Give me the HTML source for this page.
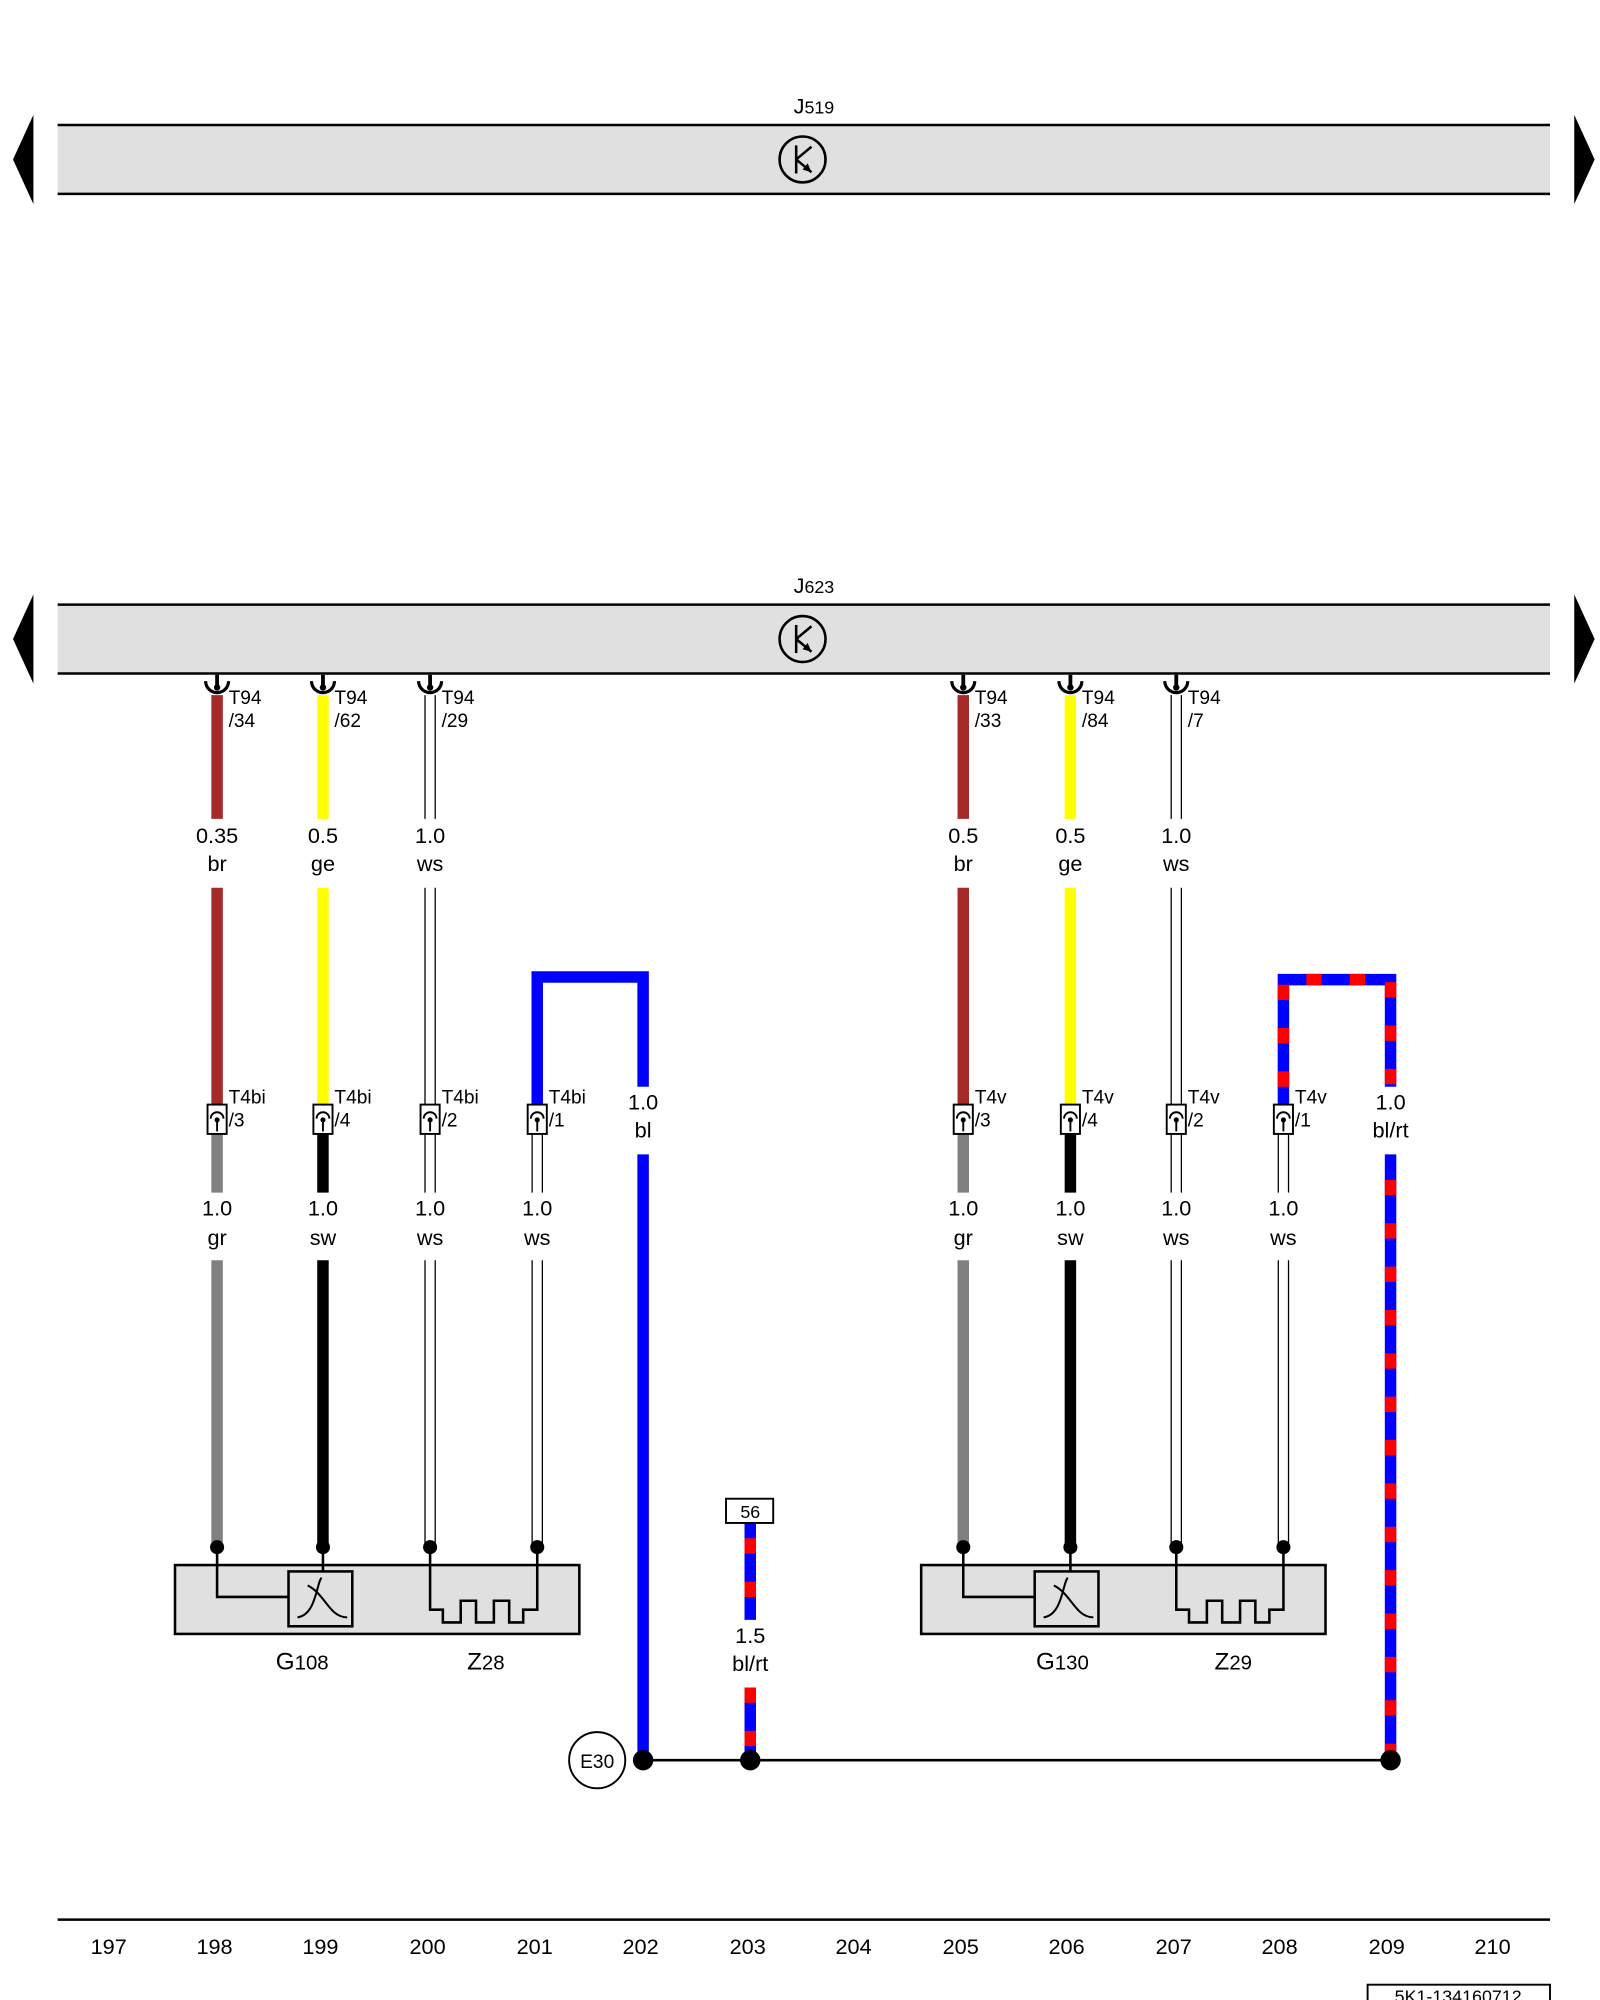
<!DOCTYPE html>
<html><head><meta charset="utf-8"><style>
html,body{margin:0;padding:0;background:#fff;}
svg{display:block;}
text{font-family:"Liberation Sans",sans-serif;fill:#000;}
</style></head><body>
<svg width="1600" height="2000" viewBox="0 0 1254 1568" xmlns="http://www.w3.org/2000/svg">
<defs>
<g id="t94">
 <path d="M-9,-4 A9,9 0 0 0 9,-4" fill="none" stroke="#000" stroke-width="2.5"/>
 <line x1="0" y1="-9" x2="0" y2="2" stroke="#000" stroke-width="3"/>
 <circle cx="0" cy="1" r="2.5" fill="#000"/>
</g>
<g id="t4">
 <rect x="-7.5" y="-11" width="15" height="23" fill="#fff" stroke="#000" stroke-width="1.5"/>
 <path d="M-5,0 A5,5 0 0 1 5,0" fill="none" stroke="#000" stroke-width="1.5"/>
 <line x1="0" y1="0" x2="0" y2="10" stroke="#000" stroke-width="1.5"/>
 <circle cx="0" cy="1" r="2" fill="#000"/>
</g>
</defs>
<polygon points="26,90 26,160 10,125" fill="#000"/>
<polygon points="1234,90 1234,160 1250,125" fill="#000"/>
<polygon points="26,466 26,536 10,501" fill="#000"/>
<polygon points="1234,466 1234,536 1250,501" fill="#000"/>
<rect x="45" y="98" width="1170" height="54" fill="#e0e0e0"/>
<line x1="45" y1="98" x2="1215" y2="98" stroke="#000" stroke-width="2"/>
<line x1="45" y1="152" x2="1215" y2="152" stroke="#000" stroke-width="2"/>
<text x="622" y="89" font-size="17">J<tspan font-size="14">519</tspan></text>
<g transform="translate(629,125)"><circle r="18" fill="none" stroke="#000" stroke-width="2"/><line x1="-5" y1="-11" x2="-5" y2="11" stroke="#000" stroke-width="2"/><line x1="-5" y1="0" x2="7" y2="-10" stroke="#000" stroke-width="2"/><line x1="-5" y1="0" x2="7" y2="10" stroke="#000" stroke-width="2"/><polygon points="7,10 0,8 4,3" fill="#000"/></g>
<rect x="45" y="474" width="1170" height="54" fill="#e0e0e0"/>
<line x1="45" y1="474" x2="1215" y2="474" stroke="#000" stroke-width="2"/>
<line x1="45" y1="528" x2="1215" y2="528" stroke="#000" stroke-width="2"/>
<text x="622" y="465" font-size="17">J<tspan font-size="14">623</tspan></text>
<g transform="translate(629,501)"><circle r="18" fill="none" stroke="#000" stroke-width="2"/><line x1="-5" y1="-11" x2="-5" y2="11" stroke="#000" stroke-width="2"/><line x1="-5" y1="0" x2="7" y2="-10" stroke="#000" stroke-width="2"/><line x1="-5" y1="0" x2="7" y2="10" stroke="#000" stroke-width="2"/><polygon points="7,10 0,8 4,3" fill="#000"/></g>

<g stroke-width="9" fill="none">
 <line x1="170" y1="545" x2="170" y2="642" stroke="#a52a2a"/>
 <line x1="170" y1="696" x2="170" y2="866" stroke="#a52a2a"/>
 <line x1="253" y1="545" x2="253" y2="642" stroke="#ffff00"/>
 <line x1="253" y1="696" x2="253" y2="866" stroke="#ffff00"/>
 <line x1="755" y1="545" x2="755" y2="642" stroke="#a52a2a"/>
 <line x1="755" y1="696" x2="755" y2="866" stroke="#a52a2a"/>
 <line x1="839" y1="545" x2="839" y2="642" stroke="#ffff00"/>
 <line x1="839" y1="696" x2="839" y2="866" stroke="#ffff00"/>
 <line x1="170" y1="889" x2="170" y2="935" stroke="#808080"/>
 <line x1="170" y1="988" x2="170" y2="1213" stroke="#808080"/>
 <line x1="253" y1="889" x2="253" y2="935" stroke="#000"/>
 <line x1="253" y1="988" x2="253" y2="1213" stroke="#000"/>
 <line x1="755" y1="889" x2="755" y2="935" stroke="#808080"/>
 <line x1="755" y1="988" x2="755" y2="1213" stroke="#808080"/>
 <line x1="839" y1="889" x2="839" y2="935" stroke="#000"/>
 <line x1="839" y1="988" x2="839" y2="1213" stroke="#000"/>
 <polyline points="421,866 421,766 504,766 504,852" stroke="#0000ff"/>
 <line x1="504" y1="905" x2="504" y2="1380" stroke="#0000ff"/>
 <polyline points="1006,866 1006,768 1090,768 1090,852" stroke="#0000ff"/>
 <polyline points="1006,866 1006,768 1090,768 1090,852" stroke="#ff0000" stroke-dasharray="12 22" stroke-dashoffset="-14"/>
 <line x1="1090" y1="905" x2="1090" y2="1380" stroke="#0000ff"/>
 <line x1="1090" y1="905" x2="1090" y2="1380" stroke="#ff0000" stroke-dasharray="12 22" stroke-dashoffset="-20"/>
 <line x1="588" y1="1194" x2="588" y2="1270" stroke="#0000ff"/>
 <line x1="588" y1="1194" x2="588" y2="1270" stroke="#ff0000" stroke-dasharray="12 22" stroke-dashoffset="-12"/>
 <line x1="588" y1="1323" x2="588" y2="1380" stroke="#0000ff"/>
 <line x1="588" y1="1323" x2="588" y2="1380" stroke="#ff0000" stroke-dasharray="12 22"/>
</g>
<g stroke="#000" stroke-width="1" fill="none">
 <path d="M333,545V642M341,545V642M333,696V866M341,696V866M333,889V935M341,889V935M333,988V1213M341,988V1213"/>
 <path d="M918,545V642M926,545V642M918,696V866M926,696V866M918,889V935M926,889V935M918,988V1213M926,988V1213"/>
 <path d="M417,889V935M425,889V935M417,988V1213M425,988V1213"/>
 <path d="M1002,889V935M1010,889V935M1002,988V1213M1010,988V1213"/>
</g>
<use href="#t94" x="170" y="538"/><use href="#t94" x="253" y="538"/><use href="#t94" x="337" y="538"/>
<use href="#t94" x="755" y="538"/><use href="#t94" x="839" y="538"/><use href="#t94" x="922" y="538"/>
<g font-size="15">
 <text x="179" y="552">T94</text><text x="179" y="570">/34</text>
 <text x="262" y="552">T94</text><text x="262" y="570">/62</text>
 <text x="346" y="552">T94</text><text x="346" y="570">/29</text>
 <text x="764" y="552">T94</text><text x="764" y="570">/33</text>
 <text x="848" y="552">T94</text><text x="848" y="570">/84</text>
 <text x="931" y="552">T94</text><text x="931" y="570">/7</text>
</g>
<use href="#t4" x="170" y="877"/><use href="#t4" x="253" y="877"/><use href="#t4" x="337" y="877"/><use href="#t4" x="421" y="877"/>
<use href="#t4" x="755" y="877"/><use href="#t4" x="839" y="877"/><use href="#t4" x="922" y="877"/><use href="#t4" x="1006" y="877"/>
<g font-size="15">
 <text x="179" y="865">T4bi</text><text x="179" y="883">/3</text>
 <text x="262" y="865">T4bi</text><text x="262" y="883">/4</text>
 <text x="346" y="865">T4bi</text><text x="346" y="883">/2</text>
 <text x="430" y="865">T4bi</text><text x="430" y="883">/1</text>
 <text x="764" y="865">T4v</text><text x="764" y="883">/3</text>
 <text x="848" y="865">T4v</text><text x="848" y="883">/4</text>
 <text x="931" y="865">T4v</text><text x="931" y="883">/2</text>
 <text x="1015" y="865">T4v</text><text x="1015" y="883">/1</text>
</g>
<g font-size="17" text-anchor="middle">
 <text x="170" y="661">0.35</text><text x="170" y="683">br</text>
 <text x="253" y="661">0.5</text><text x="253" y="683">ge</text>
 <text x="337" y="661">1.0</text><text x="337" y="683">ws</text>
 <text x="755" y="661">0.5</text><text x="755" y="683">br</text>
 <text x="839" y="661">0.5</text><text x="839" y="683">ge</text>
 <text x="922" y="661">1.0</text><text x="922" y="683">ws</text>
 <text x="504" y="870">1.0</text><text x="504" y="892">bl</text>
 <text x="1090" y="870">1.0</text><text x="1090" y="892">bl/rt</text>
 <text x="170" y="953">1.0</text><text x="170" y="976">gr</text>
 <text x="253" y="953">1.0</text><text x="253" y="976">sw</text>
 <text x="337" y="953">1.0</text><text x="337" y="976">ws</text>
 <text x="421" y="953">1.0</text><text x="421" y="976">ws</text>
 <text x="755" y="953">1.0</text><text x="755" y="976">gr</text>
 <text x="839" y="953">1.0</text><text x="839" y="976">sw</text>
 <text x="922" y="953">1.0</text><text x="922" y="976">ws</text>
 <text x="1006" y="953">1.0</text><text x="1006" y="976">ws</text>
 <text x="588" y="1288">1.5</text><text x="588" y="1310">bl/rt</text>
</g>
<g stroke="#000" stroke-width="2" fill="none">
 <rect x="137" y="1227" width="317" height="54" fill="#e0e0e0"/>
 <rect x="226" y="1232" width="50" height="43"/>
 <path d="M170,1213V1252H226M253,1213V1232"/>
 <path d="M233,1268 C248,1266 248,1240 252,1237 M241,1243 C255,1250 258,1268 272,1268" stroke-width="1.6"/>
 <path d="M337,1213V1262H347V1272H361V1255H373V1272H387V1255H399V1272H410V1262H421V1213"/>
 <rect x="722" y="1227" width="317" height="54" fill="#e0e0e0"/>
 <rect x="811" y="1232" width="50" height="43"/>
 <path d="M755,1213V1252H811M839,1213V1232"/>
 <path d="M818,1268 C833,1266 833,1240 837,1237 M826,1243 C840,1250 843,1268 857,1268" stroke-width="1.6"/>
 <path d="M922,1213V1262H932V1272H946V1255H958V1272H972V1255H984V1272H995V1262H1006V1213"/>
</g>
<g fill="#000">
 <circle cx="170" cy="1213" r="5.5"/><circle cx="253" cy="1213" r="5.5"/><circle cx="337" cy="1213" r="5.5"/><circle cx="421" cy="1213" r="5.5"/>
 <circle cx="755" cy="1213" r="5.5"/><circle cx="839" cy="1213" r="5.5"/><circle cx="922" cy="1213" r="5.5"/><circle cx="1006" cy="1213" r="5.5"/>
</g>
<g font-size="19">
 <text x="216" y="1309">G<tspan font-size="16">108</tspan></text>
 <text x="366" y="1309">Z<tspan font-size="16">28</tspan></text>
 <text x="812" y="1309">G<tspan font-size="16">130</tspan></text>
 <text x="952" y="1309">Z<tspan font-size="16">29</tspan></text>
</g>
<rect x="569" y="1175" width="37" height="19" fill="#fff" stroke="#000" stroke-width="1.5"/>
<text x="588" y="1190" font-size="14" text-anchor="middle">56</text>
<line x1="504" y1="1380" x2="1090" y2="1380" stroke="#000" stroke-width="2"/>
<circle cx="504" cy="1380" r="8" fill="#000"/><circle cx="588" cy="1380" r="8" fill="#000"/><circle cx="1090" cy="1380" r="8" fill="#000"/>
<circle cx="468" cy="1380" r="22" fill="#fff" stroke="#000" stroke-width="1.5"/>
<text x="468" y="1386" font-size="15" text-anchor="middle">E30</text>
<line x1="45" y1="1505" x2="1215" y2="1505" stroke="#000" stroke-width="2"/>
<g font-size="17" text-anchor="middle">
 <text x="85" y="1532">197</text><text x="168" y="1532">198</text><text x="251" y="1532">199</text><text x="335" y="1532">200</text><text x="419" y="1532">201</text><text x="502" y="1532">202</text><text x="586" y="1532">203</text><text x="669" y="1532">204</text><text x="753" y="1532">205</text><text x="836" y="1532">206</text><text x="920" y="1532">207</text><text x="1003" y="1532">208</text><text x="1087" y="1532">209</text><text x="1170" y="1532">210</text>
</g>
<rect x="1072" y="1556" width="143" height="20" fill="#fff" stroke="#000" stroke-width="1.5"/>
<text x="1143" y="1570" font-size="14" text-anchor="middle">5K1-134160712</text>
</svg>
</body></html>
